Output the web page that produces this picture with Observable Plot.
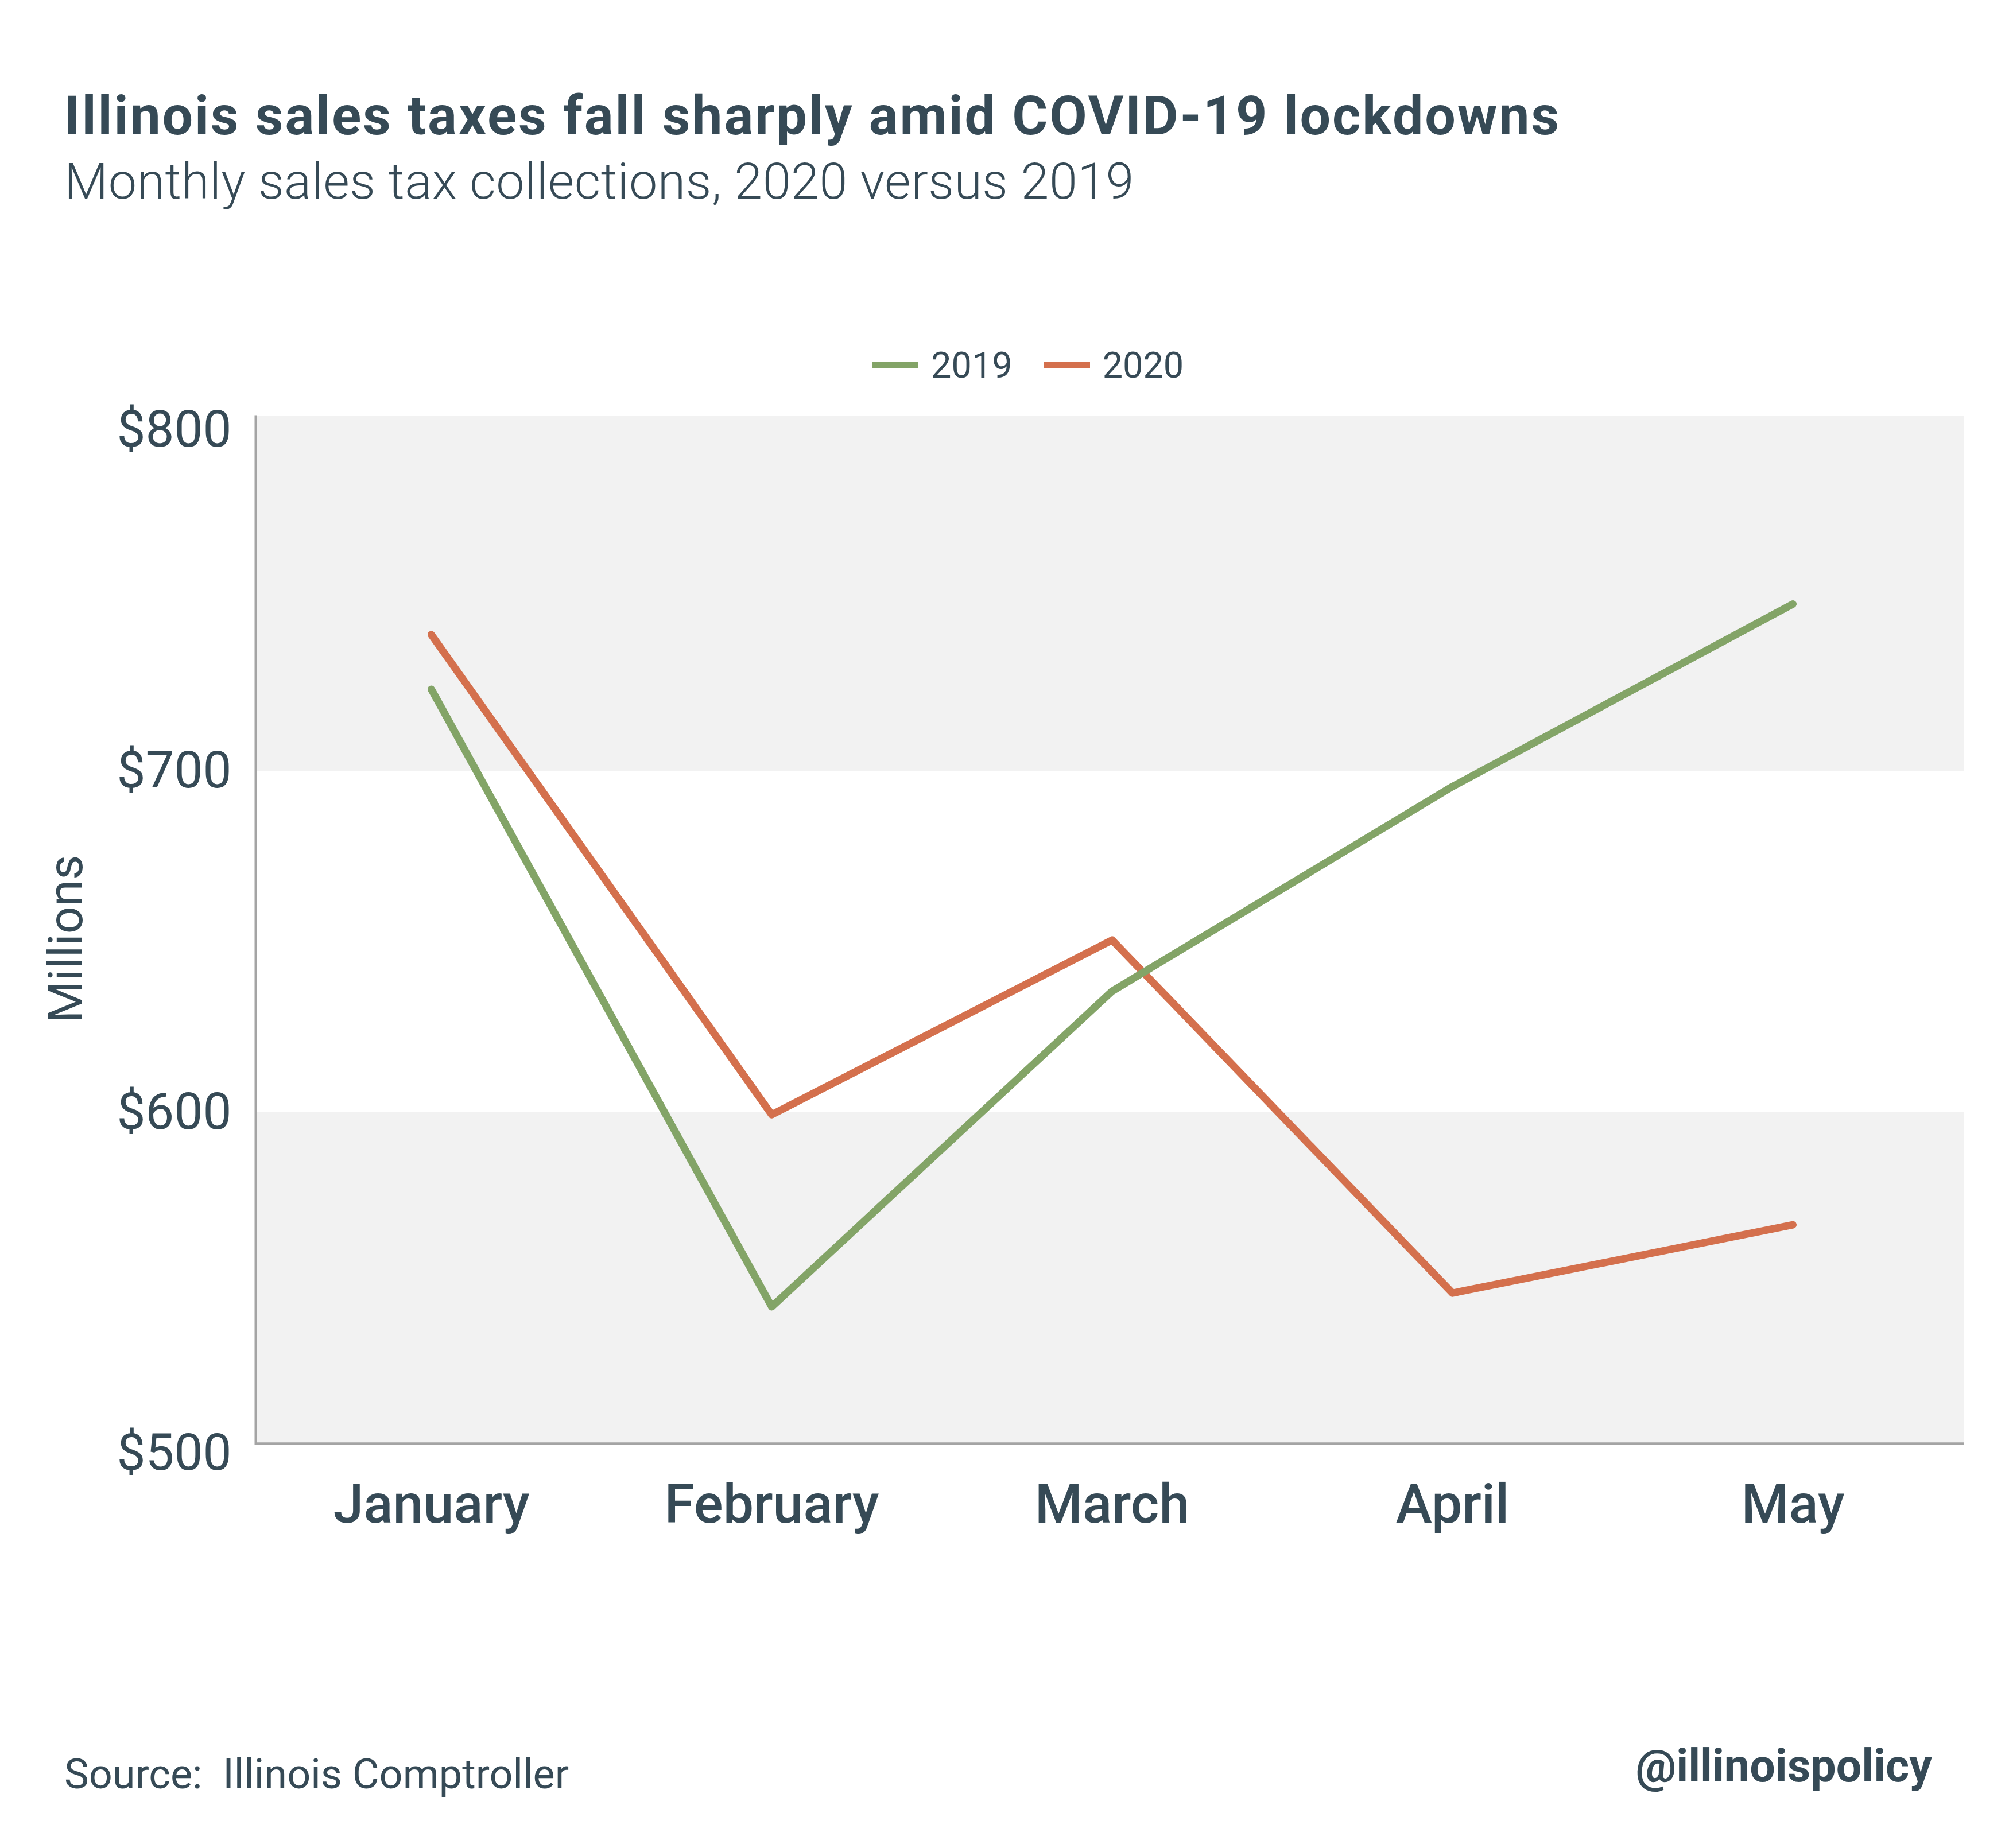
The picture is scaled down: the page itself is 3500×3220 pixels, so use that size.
<!DOCTYPE html>
<html>
<head>
<meta charset="utf-8">
<script src="https://cdn.jsdelivr.net/npm/d3@7"></script>
<script src="https://cdn.jsdelivr.net/npm/@observablehq/plot@0.6"></script>
<style>
  html, body { margin: 0; padding: 0; background: #ffffff; }
  body { width: 3500px; height: 3220px; position: relative; overflow: hidden; font-family: Roboto, "Noto Sans", sans-serif; color: #364a56; }
  .abs { position: absolute; white-space: nowrap; line-height: 1; }
  #title { left: 112px; top: 154px; font-size: 95px; font-weight: 700; letter-spacing: 2.8px; }
  #subtitle { left: 112px; top: 272px; font-size: 88px; font-weight: 300; letter-spacing: 0.55px; }
  #legend { left: 1520px; top: 604px; height: 64px; display: flex; align-items: center; font-size: 63px; }
  #legend .item { display: flex; align-items: center; margin-right: 55px; }
  #legend .sw { display: inline-block; width: 80px; height: 12px; margin-right: 22px; }
  #chart { position: absolute; left: 0; top: 560px; }
  #source { left: 112px; top: 3056px; font-size: 72px; font-weight: 400; }
  #handle { right: 134px; top: 3038px; font-size: 79px; font-weight: 700; }
</style>
</head>
<body>
<div id="title" class="abs"></div>
<div id="subtitle" class="abs"></div>
<div id="legend" class="abs"></div>
<div id="chart"></div>
<div id="source" class="abs"></div>
<div id="handle" class="abs"></div>
<script>
// ---- Data ----
const titleText = "Illinois sales taxes fall sharply amid COVID-19 lockdowns";
const subtitleText = "Monthly sales tax collections, 2020 versus 2019";
const sourceText = "Source:\u00a0\u00a0Illinois Comptroller";
const handleText = "@illinoispolicy";
const yAxisTitle = "Millions";

const months = ["January", "February", "March", "April", "May"];
const series = ["2019", "2020"];
const sales2019 = [724, 543, 635.5, 695.5, 749];
const sales2020 = [740, 599.3, 650.5, 547, 567];
const seriesColors = ["#83a467", "#d4704d"];

const yTicks = [500, 600, 700, 800];
const yDomain = [500, 804];
const axisBase = 502.9;          // value where the x-axis line sits
const bandRanges = [[700, 804], [axisBase, 600]];

// ---- Build ----
document.getElementById("title").textContent = titleText;
document.getElementById("subtitle").textContent = subtitleText;
document.getElementById("source").textContent = sourceText;
document.getElementById("handle").textContent = handleText;

const legend = document.getElementById("legend");
series.forEach((s, i) => {
  const item = document.createElement("div");
  item.className = "item";
  const sw = document.createElement("span");
  sw.className = "sw";
  sw.style.background = seriesColors[i];
  const lab = document.createElement("span");
  lab.textContent = s;
  item.appendChild(sw);
  item.appendChild(lab);
  legend.appendChild(item);
});

const rows = [];
// 2020 first so 2019 is drawn on top
months.forEach((m, i) => rows.push({month: m, year: "2020", value: sales2020[i]}));
months.forEach((m, i) => rows.push({month: m, year: "2019", value: sales2019[i]}));

const bands = bandRanges.map(([a, b]) => ({y1: a, y2: b}));

const textColor = "#364a56";
const axisGray = "#a4a4a4";

const chart = Plot.plot({
  width: 3500,
  height: 2200,
  marginTop: 165,
  marginBottom: 228,
  marginLeft: 445,
  marginRight: 79,
  style: {fontFamily: "Roboto, 'Noto Sans', sans-serif", color: textColor, background: "transparent", overflow: "visible"},
  x: {type: "point", domain: months, padding: 0.5, insetLeft: 8},
  y: {domain: yDomain},
  color: {domain: series, range: seriesColors},
  marks: [
    Plot.rect(bands, {y1: "y1", y2: "y2", fill: "#f2f2f2"}),
    Plot.frame({anchor: "left", stroke: axisGray, strokeWidth: 4, insetBottom: 17}),
    Plot.ruleY([axisBase], {stroke: axisGray, strokeWidth: 4}),
    Plot.axisY({ticks: yTicks, tickFormat: d => "$" + d, tickSize: 0, tickPadding: 42, fontSize: 89, label: null}),
    Plot.axisX({tickSize: 0, tickPadding: 53, fontSize: 95, fontWeight: 500, label: null}),
    Plot.text([yAxisTitle], {frameAnchor: "left", textAnchor: "middle", dx: -329, dy: 7, rotate: -90, fontSize: 84, fill: textColor}),
    Plot.line(rows, {x: "month", y: "value", z: "year", stroke: "year", strokeWidth: 13, strokeLinecap: "round", strokeLinejoin: "round"})
  ]
});
document.getElementById("chart").appendChild(chart);
</script>
</body>
</html>
